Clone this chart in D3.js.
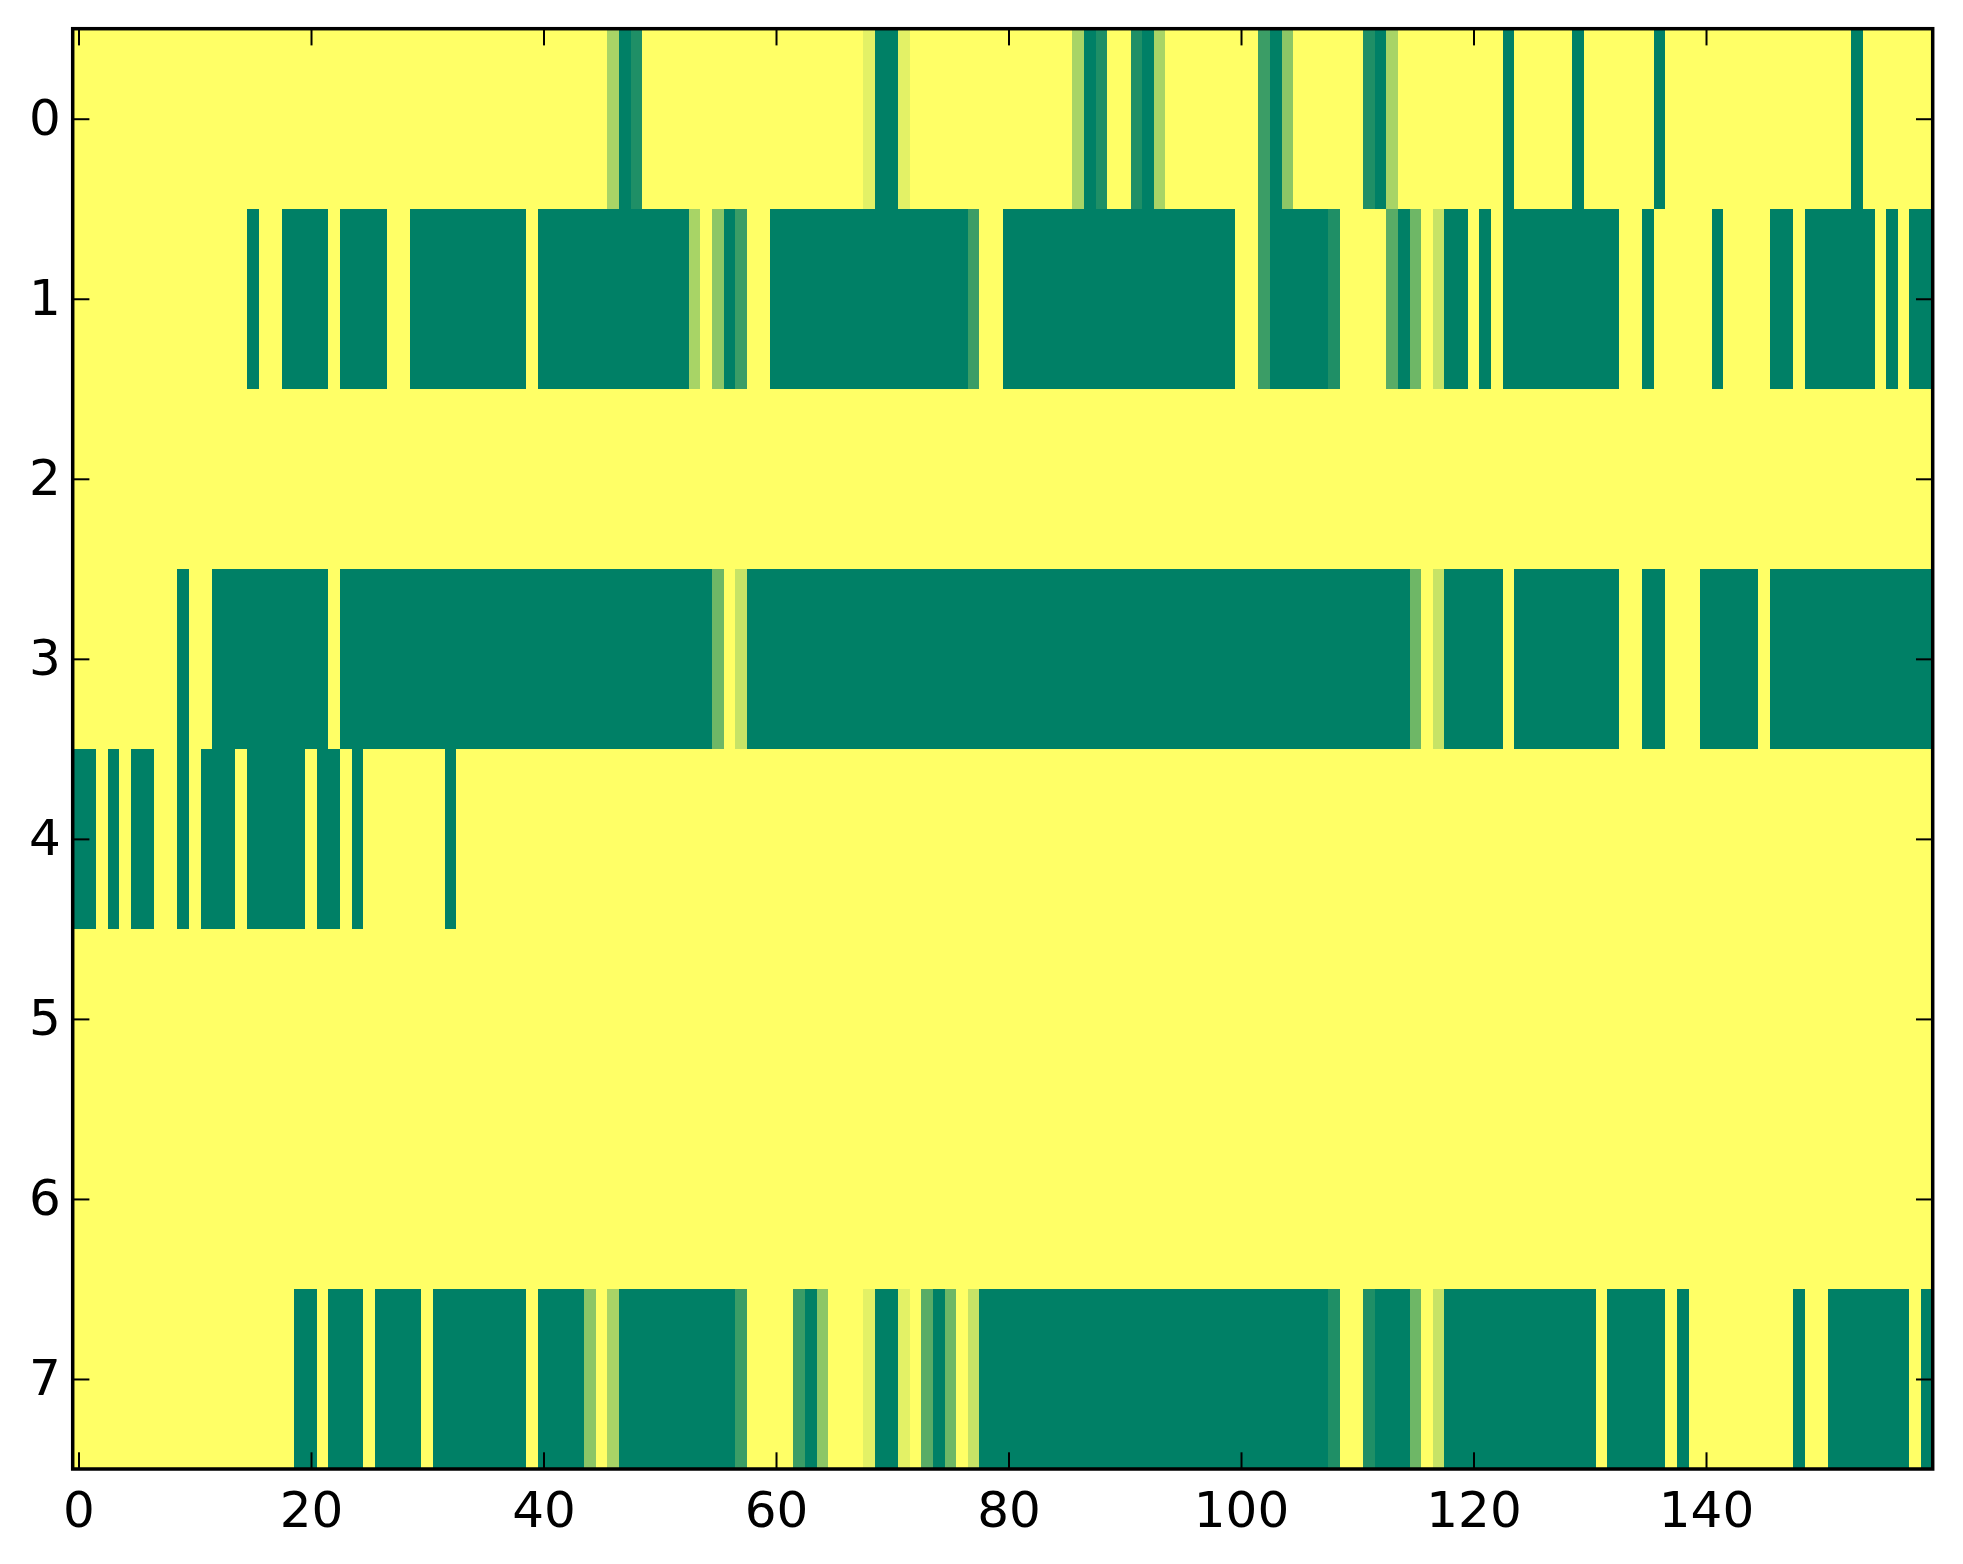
<!DOCTYPE html>
<html>
<head>
<meta charset="utf-8">
<script src="https://cdn.jsdelivr.net/npm/d3@7"></script>
<style>
  html, body { margin: 0; padding: 0; background: #ffffff; }
  svg { display: block; }
  .tick text { font-family: "DejaVu Sans", sans-serif; font-size: 50px; fill: #000; }
</style>
</head>
<body>
<svg id="chart" width="1963" height="1564"></svg>
<script>
// ---------------- data ----------------
const rowLabels = [0, 1, 2, 3, 4, 5, 6, 7];
const xTickValues = [0, 20, 40, 60, 80, 100, 120, 140];
const yTickValues = [0, 1, 2, 3, 4, 5, 6, 7];

const row0 = [
  1,1,1,1,1,1,1,1,1,1,
  1,1,1,1,1,1,1,1,1,1,
  1,1,1,1,1,1,1,1,1,1,
  1,1,1,1,1,1,1,1,1,1,
  1,1,1,1,1,1,0.66,0,0.12,1,
  1,1,1,1,1,1,1,1,1,1,
  1,1,1,1,1,1,1,1,0.89,0,
  0,0.89,1,1,1,1,1,1,1,1,
  1,1,1,1,1,1,0.66,0,0.12,1,
  1,0.12,0,0.66,1,1,1,1,1,1,
  1,1,0.23,0,0.55,1,1,1,1,1,
  1,0.12,0,0.66,1,1,1,1,1,1,
  1,1,1,0,1,1,1,1,1,0,
  1,1,1,1,1,1,0,1,1,1,
  1,1,1,1,1,1,1,1,1,1,
  1,1,1,0,1,1,1,1,1,1
];
const row1 = [
  1,1,1,1,1,1,1,1,1,1,
  1,1,1,1,1,0,1,1,0,0,
  0,0,1,0,0,0,0,1,1,0,
  0,0,0,0,0,0,0,0,0,1,
  0,0,0,0,0,0,0,0,0,0,
  0,0,0,0.66,1,0.55,0,0.23,1,1,
  0,0,0,0,0,0,0,0,0,0,
  0,0,0,0,0,0,0,0.23,1,1,
  0,0,0,0,0,0,0,0,0,0,
  0,0,0,0,0,0,0,0,0,0,
  1,1,0.23,0,0,0,0,0,0.12,1,
  1,1,1,0.35,0,0.43,1,0.78,0,0,
  1,0,1,0,0,0,0,0,0,0,
  0,0,0,1,1,0,1,1,1,1,
  1,0,1,1,1,1,0,0,1,0,
  0,0,0,0,0,1,0,1,0,0
];
const row2 = [
  1,1,1,1,1,1,1,1,1,1, 1,1,1,1,1,1,1,1,1,1,
  1,1,1,1,1,1,1,1,1,1, 1,1,1,1,1,1,1,1,1,1,
  1,1,1,1,1,1,1,1,1,1, 1,1,1,1,1,1,1,1,1,1,
  1,1,1,1,1,1,1,1,1,1, 1,1,1,1,1,1,1,1,1,1,
  1,1,1,1,1,1,1,1,1,1, 1,1,1,1,1,1,1,1,1,1,
  1,1,1,1,1,1,1,1,1,1, 1,1,1,1,1,1,1,1,1,1,
  1,1,1,1,1,1,1,1,1,1, 1,1,1,1,1,1,1,1,1,1,
  1,1,1,1,1,1,1,1,1,1, 1,1,1,1,1,1,1,1,1,1
];
const row3 = [
  1,1,1,1,1,1,1,1,1,0,
  1,1,0,0,0,0,0,0,0,0,
  0,0,1,0,0,0,0,0,0,0,
  0,0,0,0,0,0,0,0,0,0,
  0,0,0,0,0,0,0,0,0,0,
  0,0,0,0,0,0.43,1,0.78,0,0,
  0,0,0,0,0,0,0,0,0,0,
  0,0,0,0,0,0,0,0,0,0,
  0,0,0,0,0,0,0,0,0,0,
  0,0,0,0,0,0,0,0,0,0,
  0,0,0,0,0,0,0,0,0,0,
  0,0,0,0,0,0.43,1,0.78,0,0,
  0,0,0,1,0,0,0,0,0,0,
  0,0,0,1,1,0,0,1,1,1,
  0,0,0,0,0,1,0,0,0,0,
  0,0,0,0,0,0,0,0,0,0
];
const row4 = [
  0,0,1,0,1,0,0,1,1,0,
  1,0,0,0,1,0,0,0,0,0,
  1,0,0,1,0,1,1,1,1,1,
  1,1,0,1,1,1,1,1,1,1,
  1,1,1,1,1,1,1,1,1,1, 1,1,1,1,1,1,1,1,1,1,
  1,1,1,1,1,1,1,1,1,1, 1,1,1,1,1,1,1,1,1,1,
  1,1,1,1,1,1,1,1,1,1, 1,1,1,1,1,1,1,1,1,1,
  1,1,1,1,1,1,1,1,1,1, 1,1,1,1,1,1,1,1,1,1,
  1,1,1,1,1,1,1,1,1,1, 1,1,1,1,1,1,1,1,1,1,
  1,1,1,1,1,1,1,1,1,1, 1,1,1,1,1,1,1,1,1,1
];
const row5 = [
  1,1,1,1,1,1,1,1,1,1, 1,1,1,1,1,1,1,1,1,1,
  1,1,1,1,1,1,1,1,1,1, 1,1,1,1,1,1,1,1,1,1,
  1,1,1,1,1,1,1,1,1,1, 1,1,1,1,1,1,1,1,1,1,
  1,1,1,1,1,1,1,1,1,1, 1,1,1,1,1,1,1,1,1,1,
  1,1,1,1,1,1,1,1,1,1, 1,1,1,1,1,1,1,1,1,1,
  1,1,1,1,1,1,1,1,1,1, 1,1,1,1,1,1,1,1,1,1,
  1,1,1,1,1,1,1,1,1,1, 1,1,1,1,1,1,1,1,1,1,
  1,1,1,1,1,1,1,1,1,1, 1,1,1,1,1,1,1,1,1,1
];
const row6 = [
  1,1,1,1,1,1,1,1,1,1, 1,1,1,1,1,1,1,1,1,1,
  1,1,1,1,1,1,1,1,1,1, 1,1,1,1,1,1,1,1,1,1,
  1,1,1,1,1,1,1,1,1,1, 1,1,1,1,1,1,1,1,1,1,
  1,1,1,1,1,1,1,1,1,1, 1,1,1,1,1,1,1,1,1,1,
  1,1,1,1,1,1,1,1,1,1, 1,1,1,1,1,1,1,1,1,1,
  1,1,1,1,1,1,1,1,1,1, 1,1,1,1,1,1,1,1,1,1,
  1,1,1,1,1,1,1,1,1,1, 1,1,1,1,1,1,1,1,1,1,
  1,1,1,1,1,1,1,1,1,1, 1,1,1,1,1,1,1,1,1,1
];
const row7 = [
  1,1,1,1,1,1,1,1,1,1,
  1,1,1,1,1,1,1,1,1,0,
  0,1,0,0,0,1,0,0,0,0,
  1,0,0,0,0,0,0,0,0,1,
  0,0,0,0,0.55,1,0.66,0,0,0,
  0,0,0,0,0,0,0,0.23,1,1,
  1,1,0.23,0,0.55,1,1,1,0.89,0,
  0,0.89,1,0.35,0,0.43,1,0.78,0,0,
  0,0,0,0,0,0,0,0,0,0,
  0,0,0,0,0,0,0,0,0,0,
  0,0,0,0,0,0,0,0,0.12,1,
  1,0.12,0,0,0,0.43,1,0.78,0,0,
  0,0,0,0,0,0,0,0,0,0,
  0,1,0,0,0,0,0,1,0,1,
  1,1,1,1,1,1,1,1,0,1,
  1,0,0,0,0,0,0,0,1,0
];
const rows = [row0, row1, row2, row3, row4, row5, row6, row7];

// ---------------- drawing ----------------
const svg = d3.select("#chart");
const plotLeft = 72.7, plotRight = 1932.7, plotTop = 28.7, plotBottom = 1469;
const nCols = row0.length;

const x = d3.scaleLinear().domain([-0.5, nCols - 0.5]).range([plotLeft, plotRight]);
const y = d3.scaleLinear().domain([-0.5, rowLabels.length - 0.5]).range([plotTop, plotBottom]);
// matplotlib "summer" colormap: linear from (0,0.5,0.4) to (1,1,0.4)
const color = d3.scaleLinear().domain([0, 1])
  .range(["rgb(0,128,102)", "rgb(255,255,102)"]).interpolate(d3.interpolateRgb);

const cells = [];
rows.forEach((r, ri) => r.forEach((v, ci) => cells.push({ r: rowLabels[ri], c: ci, v })));

svg.append("g")
  .attr("shape-rendering", "crispEdges")
  .selectAll("rect")
  .data(cells)
  .join("rect")
  .attr("x", d => x(d.c - 0.5))
  .attr("y", d => y(d.r - 0.5))
  .attr("width", d => x(d.c + 0.5) - x(d.c - 0.5) + 0.6)
  .attr("height", d => y(d.r + 0.5) - y(d.r - 0.5) + 0.6)
  .attr("fill", d => color(d.v));

const tickLen = 16.7;

function styleAxis(g) {
  g.select(".domain").remove();
  g.selectAll(".tick line").attr("stroke", "#000").attr("stroke-width", 2);
}

svg.append("g")
  .attr("transform", `translate(0,${plotBottom})`)
  .call(d3.axisBottom(x).tickValues(xTickValues).tickFormat(d3.format("d"))
    .tickSizeInner(-tickLen).tickSizeOuter(0).tickPadding(22))
  .call(styleAxis);

svg.append("g")
  .attr("transform", `translate(0,${plotTop})`)
  .call(d3.axisTop(x).tickValues(xTickValues).tickFormat("")
    .tickSizeInner(-tickLen).tickSizeOuter(0))
  .call(styleAxis);

svg.append("g")
  .attr("transform", `translate(${plotLeft},0)`)
  .call(d3.axisLeft(y).tickValues(yTickValues).tickFormat(d3.format("d"))
    .tickSizeInner(-tickLen).tickSizeOuter(0).tickPadding(12))
  .call(styleAxis);

svg.append("g")
  .attr("transform", `translate(${plotRight},0)`)
  .call(d3.axisRight(y).tickValues(yTickValues).tickFormat("")
    .tickSizeInner(-tickLen).tickSizeOuter(0))
  .call(styleAxis);

svg.selectAll(".tick text")
  .attr("font-family", "DejaVu Sans")
  .attr("font-size", 50)
  .attr("fill", "#000");

// frame
svg.append("rect")
  .attr("x", plotLeft).attr("y", plotTop)
  .attr("width", plotRight - plotLeft).attr("height", plotBottom - plotTop)
  .attr("fill", "none").attr("stroke", "#000").attr("stroke-width", 3.5);
</script>
</body>
</html>
